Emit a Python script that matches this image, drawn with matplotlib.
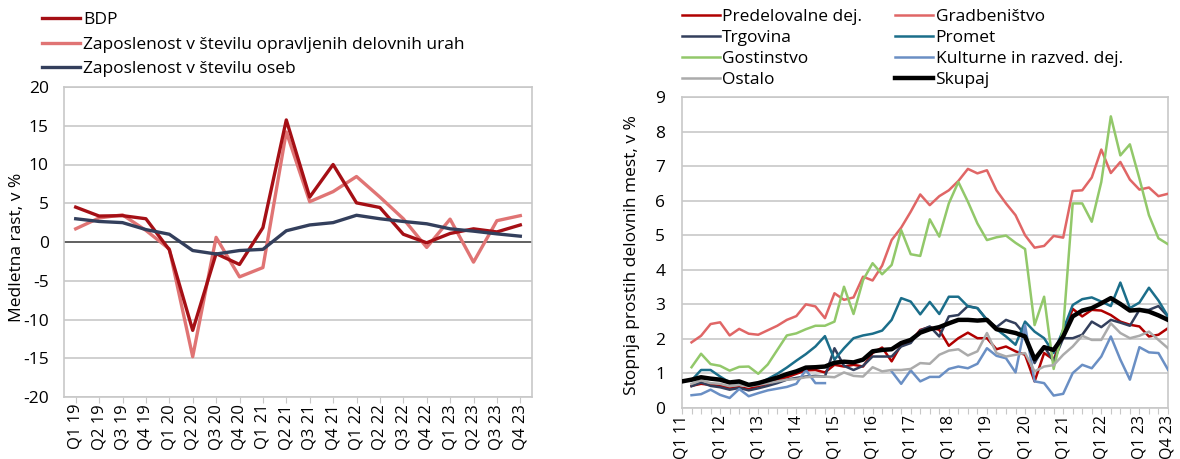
import numpy as np
import matplotlib
matplotlib.use("Agg")
import matplotlib.pyplot as plt

plt.rcParams['font.family'] = ['Open Sans', 'DejaVu Sans']
plt.rcParams['axes.unicode_minus'] = False

# levi graf: medletna rast
q_left = ['Q1 19', 'Q2 19', 'Q3 19', 'Q4 19', 'Q1 20', 'Q2 20', 'Q3 20', 'Q4 20',
          'Q1 21', 'Q2 21', 'Q3 21', 'Q4 21', 'Q1 22', 'Q2 22', 'Q3 22', 'Q4 22',
          'Q1 23', 'Q2 23', 'Q3 23', 'Q4 23']
bdp = [4.5, 3.35, 3.4, 3.0, -1.0, -11.4, -1.5, -2.9, 1.85, 15.75,
       5.8, 10.0, 5.05, 4.45, 1.0, -0.1, 1.1, 1.7, 1.3, 2.2]
zap_ure = [1.7, 3.1, 3.5, 1.5, -0.9, -14.8, 0.6, -4.5, -3.3, 14.2,
           5.2, 6.5, 8.45, 5.8, 3.0, -0.7, 2.95, -2.6, 2.75, 3.4]
zap_osebe = [3.0, 2.65, 2.5, 1.6, 1.0, -1.1, -1.55, -1.1, -0.95, 1.45,
             2.2, 2.5, 3.45, 3.0, 2.65, 2.35, 1.7, 1.4, 1.05, 0.75]

# desni graf: stopnja prostih delovnih mest (Q1 11 - Q4 23)
nan = np.nan
predelovalne = [nan, 0.64, 0.70, 0.67, 0.64, 0.58, 0.60, 0.55, 0.63, 0.70,
                0.80, 0.89, 0.99, 1.09, 1.10, 1.03, 1.25, 1.20, 1.25, 1.20,
                1.59, 1.75, 1.35, 1.83, 1.92, 2.26, 2.34, 2.26, 1.80, 2.02,
                2.18, 2.02, 2.02, 1.70, 1.78, 1.64, 1.54, 0.77, 1.59, 1.40,
                2.10, 2.87, 2.65, 2.84, 2.82, 2.69, 2.50, 2.41, 2.36, 2.07,
                2.12, 2.31]
gradbenistvo = [nan, 1.90, 2.09, 2.43, 2.48, 2.10, 2.29, 2.15, 2.12, 2.25,
                2.38, 2.55, 2.66, 3.00, 2.94, 2.60, 3.32, 3.13, 3.20, 3.80,
                3.69, 4.12, 4.86, 5.22, 5.68, 6.18, 5.87, 6.13, 6.30, 6.57,
                6.92, 6.79, 6.88, 6.30, 5.92, 5.58, 5.00, 4.64, 4.69, 4.98,
                4.93, 6.28, 6.30, 6.67, 7.48, 6.80, 7.12, 6.61, 6.32, 6.38,
                6.13, 6.20]
trgovina = [nan, 0.63, 0.74, 0.64, 0.60, 0.53, 0.58, 0.51, 0.57, 0.64,
            0.72, 0.82, 0.87, 0.91, 0.93, 0.91, 1.73, 1.22, 1.10, 1.22,
            1.49, 1.49, 1.49, 1.78, 1.88, 2.24, 2.36, 2.07, 2.65, 2.69,
            2.95, 2.89, 2.55, 2.34, 2.55, 2.45, 2.12, 1.30, 1.78, 1.35,
            2.02, 2.02, 2.12, 2.50, 2.34, 2.55, 2.47, 2.38, 2.84, 2.84,
            2.95, 2.65]
promet = [nan, 0.80, 1.10, 1.10, 0.91, 0.74, 0.70, 0.64, 0.70, 0.84,
          0.99, 1.17, 1.37, 1.56, 1.78, 2.08, 1.40, 1.73, 2.02, 2.10,
          2.15, 2.24, 2.55, 3.18, 3.08, 2.71, 3.07, 2.72, 3.22, 3.22,
          2.94, 2.89, 2.55, 2.28, 2.07, 1.83, 2.50, 2.21, 2.02, 1.59,
          2.26, 2.98, 3.15, 3.20, 3.08, 2.95, 3.63, 2.89, 3.05, 3.48,
          3.11, 2.65]
gostinstvo = [nan, 1.18, 1.57, 1.27, 1.22, 1.08, 1.19, 1.20, 0.99, 1.26,
              1.68, 2.10, 2.16, 2.28, 2.38, 2.38, 2.50, 3.51, 2.72, 3.70,
              4.19, 3.87, 4.14, 5.15, 4.45, 4.40, 5.46, 4.96, 5.92, 6.54,
              5.97, 5.34, 4.86, 4.94, 4.99, 4.78, 4.60, 2.40, 3.22, 1.13,
              2.30, 5.92, 5.92, 5.39, 6.54, 8.44, 7.31, 7.63, 6.64, 5.58,
              4.91, 4.74]
kulturne = [nan, 0.37, 0.40, 0.53, 0.38, 0.29, 0.55, 0.34, 0.43, 0.51,
            0.56, 0.61, 0.70, 1.10, 0.72, 0.72, nan, nan, nan, nan,
            nan, nan, 1.06, 0.70, 1.09, 0.77, 0.90, 0.90, 1.13, 1.20,
            1.15, 1.28, 1.73, 1.51, 1.44, 1.03, 2.40, 0.77, 0.72, 0.36,
            0.41, 1.01, 1.25, 1.15, 1.49, 2.07, 1.40, 0.82, 1.76, 1.61,
            1.59, 1.11]
ostalo = [nan, 0.70, 0.80, 0.72, 0.70, 0.63, 0.67, 0.63, 0.67, 0.72,
          0.77, 0.82, 0.84, 0.89, 0.91, 0.91, 0.89, 1.03, 0.93, 0.91,
          1.18, 1.06, 1.10, 1.10, 1.13, 1.30, 1.28, 1.54, 1.66, 1.70,
          1.52, 1.64, 2.17, 1.59, 1.49, 1.54, 1.59, 1.06, 1.20, 1.24,
          1.54, 1.78, 2.09, 1.97, 1.97, 2.45, 2.17, 2.02, 2.09, 2.21,
          1.97, 1.73]
skupaj = [0.77, 0.82, 0.89, 0.85, 0.82, 0.74, 0.77, 0.67, 0.72, 0.80,
          0.88, 0.98, 1.06, 1.17, 1.18, 1.20, 1.31, 1.34, 1.32, 1.40,
          1.64, 1.68, 1.70, 1.88, 1.97, 2.18, 2.28, 2.34, 2.45, 2.55,
          2.55, 2.53, 2.55, 2.28, 2.23, 2.17, 2.07, 1.41, 1.76, 1.68,
          2.07, 2.65, 2.82, 2.89, 3.03, 3.18, 3.01, 2.82, 2.84, 2.79,
          2.68, 2.55]
q_right = [f"Q{q} {y}" for y in range(11, 24) for q in range(1, 5)]

grid_c = '#C8C8C8'
fs = 12.5

W, H = 1180, 459
fig = plt.figure(figsize=(W / 100, H / 100), dpi=100)

# ---- levi graf ----
ax1 = fig.add_axes([64 / W, 62 / H, 468 / W, 310 / H])
x1 = np.arange(len(q_left))
ax1.axhline(0, color='#595959', lw=1.3, zorder=1)
l1, = ax1.plot(x1, bdp, color='#A50F15', lw=2.4, zorder=4)
l2, = ax1.plot(x1, zap_ure, color='#E07474', lw=2.4, zorder=3)
l3, = ax1.plot(x1, zap_osebe, color='#333F5C', lw=2.4, zorder=5)
ax1.set_xlim(-0.5, len(q_left) - 0.5)
ax1.set_ylim(-20, 20)
ax1.set_yticks(range(-20, 21, 5))
ax1.set_xticks(x1)
ax1.set_xticklabels(q_left, rotation=90)
ax1.set_ylabel('Medletna rast, v %', fontsize=fs)
ax1.yaxis.set_label_coords(-0.083, 0.484)
ax1.tick_params(axis='y', length=0, labelsize=fs, pad=11)
ax1.tick_params(axis='x', length=4, color=grid_c, labelsize=12, pad=1)

fig.legend([l1, l2, l3],
           ['BDP', 'Zaposlenost v številu opravljenih delovnih urah',
            'Zaposlenost v številu oseb'],
           loc='upper left', bbox_to_anchor=(42 / W, 1 - 12 / H), frameon=False,
           fontsize=fs, handlelength=2.2, handletextpad=0.17,
           labelspacing=0.48, borderaxespad=0, borderpad=0)

# ---- desni graf ----
ax2 = fig.add_axes([682 / W, 51 / H, 486 / W, 311 / H])
x2 = np.arange(len(q_right))
series = [
    ('Predelovalne dej.', predelovalne, '#B00000', 1.8),
    ('Gradbeništvo', gradbenistvo, '#E06666', 1.8),
    ('Trgovina', trgovina, '#333F5C', 1.8),
    ('Promet', promet, '#1B6E8A', 1.8),
    ('Gostinstvo', gostinstvo, '#92C86A', 1.8),
    ('Kulturne in razved. dej.', kulturne, '#6A8FC4', 1.8),
    ('Ostalo', ostalo, '#ABABAB', 1.8),
    ('Skupaj', skupaj, '#000000', 3.2),
]
handles = {}
for i, (name, vals, col, lw) in enumerate(series):
    h, = ax2.plot(x2, vals, color=col, lw=lw, zorder=2 + i)
    handles[name] = h
ax2.set_xlim(0, len(q_right) - 1)
ax2.set_ylim(0, 9)
ax2.set_yticks(range(0, 10))
ax2.set_xticks(x2)
ax2.set_xticklabels([lab if (i % 4 == 0 or i == len(q_right) - 1) else ''
                     for i, lab in enumerate(q_right)], rotation=90)
ax2.set_ylabel('Stopnja prostih delovnih mest, v %', fontsize=fs)
ax2.yaxis.set_label_coords(-0.086, 0.492)
ax2.tick_params(axis='y', length=0, labelsize=fs, pad=12)
ax2.tick_params(axis='x', length=4, color=grid_c, labelsize=11.5, pad=1)

order = ['Predelovalne dej.', 'Trgovina', 'Gostinstvo', 'Ostalo',
         'Gradbeništvo', 'Promet', 'Kulturne in razved. dej.', 'Skupaj']
fig.legend([handles[n] for n in order], order, ncol=2,
           loc='upper left', bbox_to_anchor=(682 / W, 1 - 9 / H), frameon=False,
           fontsize=fs, handlelength=2.2, handletextpad=0.12,
           labelspacing=0.27, columnspacing=1.9, borderaxespad=0, borderpad=0)

for ax in (ax1, ax2):
    ax.grid(axis='y', color=grid_c, lw=1.2, zorder=0)
    ax.set_axisbelow(True)
    for s in ax.spines.values():
        s.set_color(grid_c)
        s.set_linewidth(1.2)

fig.savefig('out.png', dpi=100)
